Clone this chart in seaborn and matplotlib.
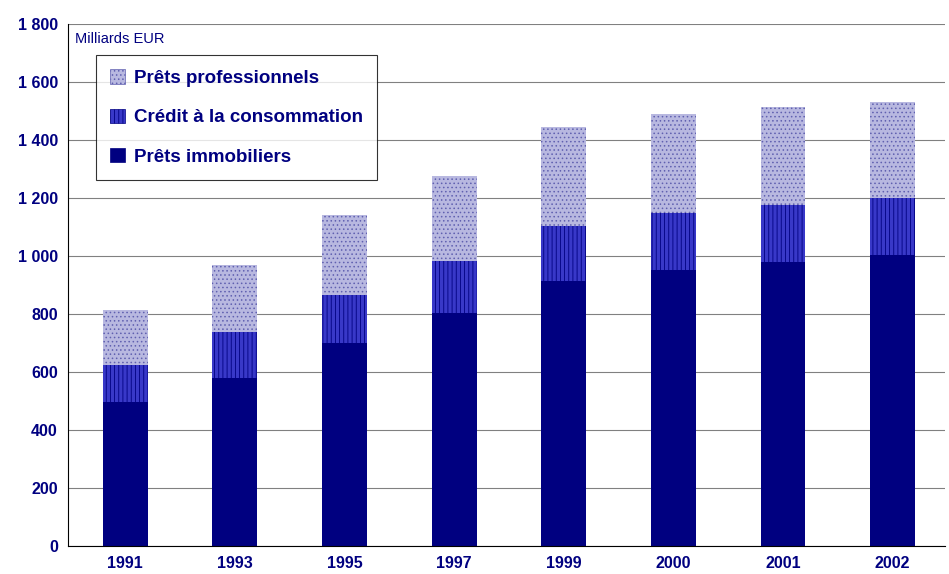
import matplotlib
matplotlib.use('Agg')
import matplotlib.pyplot as plt
import seaborn as sns
import numpy as np
import pandas as pd

years = ['1991', '1993', '1995', '1997', '1999', '2000', '2001', '2002']
immobiliers = [497, 579, 700, 803, 914, 952, 979, 1003]
consommation = [127, 159, 166, 180, 189, 196, 197, 197]
professionnels = [190, 231, 275, 293, 342, 342, 338, 331]

sns.set_style('white')
plt.rcParams['font.family'] = ['Liberation Sans', 'DejaVu Sans']
plt.rcParams['hatch.linewidth'] = 0.6

fig = plt.figure(figsize=(9.49, 5.74), dpi=100)
ax = fig.add_axes([0.072, 0.049, 0.924, 0.909])

lvl1 = np.array(immobiliers)
lvl2 = lvl1 + np.array(consommation)
lvl3 = lvl2 + np.array(professionnels)
df = pd.DataFrame({'year': years, 'l1': lvl1, 'l2': lvl2, 'l3': lvl3})

ax.yaxis.grid(True, color='#808080', linewidth=0.8)
ax.set_axisbelow(True)

layers = [('l3', '#b8b8e0', '#6060b0', '....', 'Prêts professionnels'),
          ('l2', '#3838c8', '#000080', '||||', 'Crédit à la consommation'),
          ('l1', '#000080', '#000080', None, 'Prêts immobiliers')]
handles = []
for col, fc, hc, hatch, lab in layers:
    sns.barplot(data=df, x='year', y=col, color=fc, width=0.41, ax=ax,
                edgecolor=hc, linewidth=0, hatch=hatch, saturation=1)
    handles.append(plt.Rectangle((0, 0), 1, 1, facecolor=fc, edgecolor=hc,
                                 hatch=hatch, linewidth=0.5, label=lab))

ax.set_ylim(0, 1800)
ax.set_yticks(range(0, 1801, 200))
ax.set_yticklabels(['0', '200', '400', '600', '800', '1 000', '1 200', '1 400', '1 600', '1 800'])
ax.set_xlim(-0.52, 7.48)
ax.set_xlabel('')
ax.set_ylabel('')
ax.tick_params(axis='both', labelsize=11.5, labelcolor='#000080', length=4, color='black')
for t in ax.get_xticklabels() + ax.get_yticklabels():
    t.set_fontweight('bold')
for s in ['top', 'right']:
    ax.spines[s].set_visible(False)
for s in ['left', 'bottom']:
    ax.spines[s].set_color('black')

ax.text(0.008, 0.985, 'Milliards EUR', transform=ax.transAxes, fontsize=10.5,
        color='#000080', va='top')
leg = ax.legend(handles=handles, loc='upper left', bbox_to_anchor=(0.032, 0.94),
                frameon=True, fancybox=False, edgecolor='black', fontsize=13.5,
                labelspacing=1.15, handlelength=0.8, handleheight=0.8,
                handletextpad=0.45, borderpad=0.75, borderaxespad=0)
leg.get_frame().set_linewidth(0.8)
for t in leg.get_texts():
    t.set_color('#000080')
    t.set_fontweight('bold')

fig.savefig('out.png', dpi=100)
